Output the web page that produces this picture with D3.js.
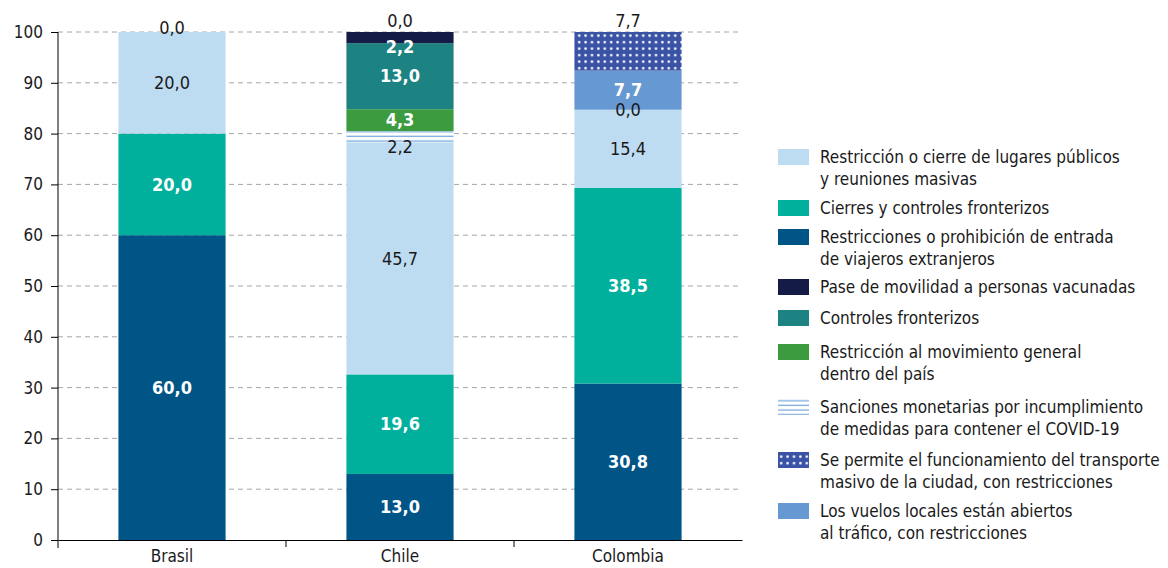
<!DOCTYPE html>
<html>
<head>
<meta charset="utf-8">
<script src="https://cdn.jsdelivr.net/npm/d3@7"></script>
<style>
  body { margin: 0; background: #fff; }
  text { font-family: "Liberation Sans Narrow", "DejaVu Sans Condensed", sans-serif; }
</style>
</head>
<body>
<svg id="chart" width="1168" height="568"></svg>
<script>
// Countries on the x axis
const countries = ["Brasil", "Chile", "Colombia"];

// Series values per country (null = not reported)
const entrada    = [60.0, 13.0, 30.8];
const cierres    = [20.0, 19.6, 38.5];
const lugares    = [20.0, 45.7, 15.4];
const sanciones  = [0.0, 2.2, 0.0];
const movimiento = [null, 4.3, null];
const controles  = [null, 13.0, null];
const pase       = [null, 2.2, null];
const vuelos     = [null, null, 7.7];
const transporte = [null, 0.0, 7.7];

const yTicks = [0, 10, 20, 30, 40, 50, 60, 70, 80, 90, 100];

// series in stacking order (bottom -> top)
const series = [
  { key: "entrada", values: entrada, fill: "#005486", dark: false },
  { key: "cierres", values: cierres, fill: "#00b09c", dark: false },
  { key: "lugares", values: lugares, fill: "#bddcf2", dark: true },
  { key: "sanciones", values: sanciones, fill: "url(#stripes)", dark: true },
  { key: "movimiento", values: movimiento, fill: "#3c9b3f", dark: false },
  { key: "controles", values: controles, fill: "#1c8282", dark: false },
  { key: "pase", values: pase, fill: "#141b47", dark: false },
  { key: "vuelos", values: vuelos, fill: "#6699d1", dark: false },
  { key: "transporte", values: transporte, fill: "url(#dots)", dark: true, above: true }
];

// legend order
const legendItems = [
  { key: "lugares", lines: ["Restricción o cierre de lugares públicos", "y reuniones masivas"] },
  { key: "cierres", lines: ["Cierres y controles fronterizos"] },
  { key: "entrada", lines: ["Restricciones o prohibición de entrada", "de viajeros extranjeros"] },
  { key: "pase", lines: ["Pase de movilidad a personas vacunadas"] },
  { key: "controles", lines: ["Controles fronterizos"] },
  { key: "movimiento", lines: ["Restricción al movimiento general", "dentro del país"] },
  { key: "sanciones", lines: ["Sanciones monetarias por incumplimiento", "de medidas para contener el COVID-19"] },
  { key: "transporte", lines: ["Se permite el funcionamiento del transporte", "masivo de la ciudad, con restricciones"] },
  { key: "vuelos", lines: ["Los vuelos locales están abiertos", "al tráfico, con restricciones"] }
];
const legendY = [157, 208, 237, 287, 318, 352, 407, 460, 511];

const svg = d3.select("#chart");
const fmt = v => d3.format(".1f")(v).replace(".", ",");

// patterns
const defs = svg.append("defs");
const stripes = defs.append("pattern").attr("id", "stripes")
  .attr("patternUnits", "userSpaceOnUse").attr("width", 8).attr("height", 4.6);
stripes.append("rect").attr("width", 8).attr("height", 4.6).attr("fill", "#ffffff");
stripes.append("line").attr("x1", 0).attr("x2", 8).attr("y1", 3).attr("y2", 3)
  .attr("stroke", "#6fa3dc").attr("stroke-width", 1.2);

const dots = defs.append("pattern").attr("id", "dots")
  .attr("patternUnits", "userSpaceOnUse").attr("width", 6.4).attr("height", 6.5);
dots.append("rect").attr("width", 6.4).attr("height", 6.5).attr("fill", "#3a53a5");
dots.append("circle").attr("cx", 3.2).attr("cy", 3.2).attr("r", 1.3).attr("fill", "#ffffff");

// scales
const x = d3.scaleBand().domain(countries).range([58, 742])
  .paddingInner(0.53).paddingOuter(0.265);
const y = d3.scaleLinear().domain([0, 100]).range([540, 32]);

// gridlines
svg.append("g").selectAll("line").data(yTicks.filter(d => d > 0)).join("line")
  .attr("x1", 58).attr("x2", 742)
  .attr("y1", d => y(d)).attr("y2", d => y(d))
  .attr("stroke", "#a6a6a6").attr("stroke-width", 1).attr("stroke-dasharray", "5,4");

// stacks
const segs = [];
countries.forEach((c, i) => {
  let base = 0;
  series.forEach(s => {
    const v = s.values[i];
    if (v === null) return;
    segs.push({ c, s, v, y0: base, y1: base + v });
    base += v;
  });
  segs.filter(d => d.c === c).forEach(d => d.total = base);
});

svg.append("g").selectAll("rect").data(segs.filter(d => d.v > 0)).join("rect")
  .attr("x", d => x(d.c)).attr("width", x.bandwidth())
  .attr("y", d => y(Math.min(d.y1, 100)))
  .attr("height", d => y(d.y0) - y(Math.min(d.y1, 100)))
  .attr("fill", d => d.s.fill);

// segment labels
svg.append("g").selectAll("text").data(segs).join("text")
  .attr("x", d => x(d.c) + x.bandwidth() / 2)
  .attr("y", d => {
    if (d.s.above) return y(100) - 11;
    if (d.v === 0 && d.y0 >= 99.9) return y(100) - 4;
    if (d.v > 0 && d.v < 3) return y(d.y0) + 4;
    return y((d.y0 + d.y1) / 2);
  })
  .attr("dy", "0.35em")
  .attr("text-anchor", "middle")
  .attr("font-size", 18)
  .attr("font-weight", d => (d.s.dark || d.v === 0) ? "normal" : "bold")
  .attr("fill", d => (d.s.dark || d.v === 0) ? "#1a1a1a" : "#ffffff")
  .text(d => fmt(d.v));

// y axis
const yAxis = svg.append("g").attr("transform", "translate(58,0)")
  .call(d3.axisLeft(y).tickValues(yTicks).tickSize(7).tickPadding(8));
yAxis.select(".domain").attr("stroke", "#000").attr("d", "M0,32V548");
yAxis.selectAll(".tick line").attr("stroke", "#000");
yAxis.selectAll(".tick text").attr("font-size", 17).attr("fill", "#1a1a1a")
  .attr("font-family", "'Liberation Sans Narrow', sans-serif");

// x axis
const xAxis = svg.append("g").attr("transform", "translate(0,540)")
  .call(d3.axisBottom(x).tickSize(0).tickPadding(10));
xAxis.select(".domain").attr("stroke", "#000");
xAxis.selectAll(".tick text").attr("font-size", 17).attr("fill", "#1a1a1a")
  .attr("font-family", "'Liberation Sans Narrow', sans-serif");
const bounds = countries.slice(1).map(c => x(c) - x.step() * x.paddingInner() / 2);
xAxis.selectAll(".bound").data(bounds).join("line").attr("class", "bound")
  .attr("x1", d => d).attr("x2", d => d).attr("y1", 0).attr("y2", 7)
  .attr("stroke", "#000");

// legend
const fillOf = k => series.find(s => s.key === k).fill;
const leg = svg.append("g").selectAll("g").data(legendItems).join("g")
  .attr("transform", (d, i) => `translate(778,${legendY[i]})`);
leg.append("rect").attr("x", 0).attr("y", -8).attr("width", 31).attr("height", 16)
  .attr("fill", d => fillOf(d.key));
leg.append("text").attr("x", 42).attr("font-size", 17).attr("fill", "#1a1a1a")
  .selectAll("tspan").data(d => d.lines).join("tspan")
  .attr("x", 42).attr("y", (d, i) => i * 22).attr("dy", "0.35em")
  .text(d => d);
</script>
</body>
</html>
